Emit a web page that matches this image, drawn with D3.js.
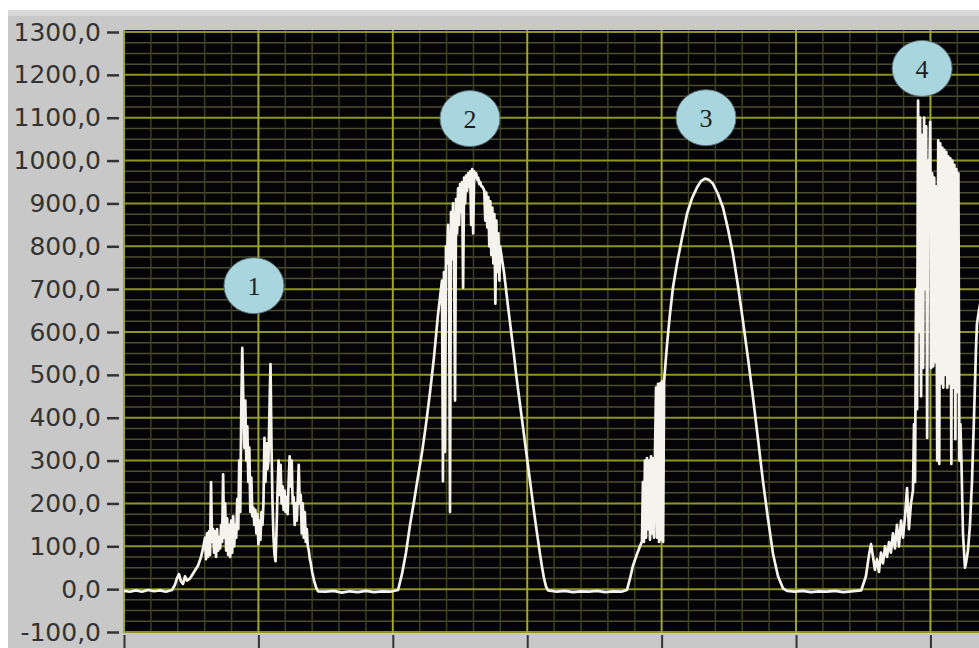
<!doctype html>
<html>
<head>
<meta charset="utf-8">
<script src="https://cdn.jsdelivr.net/npm/d3@7"></script>
<style>
  body { margin: 0; background: #fff; }
  svg { display: block; }
  .yaxis text { font-family: "DejaVu Sans", sans-serif; font-size: 25px; fill: #333; }
  .marker text { font-family: "Liberation Serif", serif; font-size: 26px; fill: #1e1e1e; }
</style>
</head>
<body>
<svg width="979" height="648"></svg>
<script>
// axis ticks
const yTicks = [-100, 0, 100, 200, 300, 400, 500, 600, 700, 800, 900, 1000, 1100, 1200, 1300];
const xTicks = [0, 100, 200, 300, 400, 500, 600];

// trace: [sample, value] pairs and runs of noisy samples
const STEP = 0.75;
const night1 = [[0,-4],[4.5,-6],[8.9,-3],[13.4,-6],[17.9,-2],[22.3,-5],[26.8,-3],[31.2,-6],[35.7,-2],
  [37.9,10],[39.4,25],[40.9,35],[42.4,18],[43.9,12],[45.4,30],[46.9,20],[49.1,25],[52.1,40],[55.1,55],
  [57.3,75],[58.8,95],[60.3,120]];
const day1Start = 61.0;
const day1 = [70,130,75,135,80,250,110,140,85,135,75,140,90,120,95,150,110,268,120,200,90,165,80,150,75,
  160,85,170,100,150,120,210,140,300,180,420,563,440,330,440,300,380,250,330,180,260,170,190,150,185,130,
  175,105,160,115,180,150,200,353,250,340,280,300,420,525,330,200,120,80,65,140,230,300,220,290,200,240,
  185,230,180,215,175,250,310,240,300,200,215,150,200,160,210,290,200,220,130,200,120,180,110,140,100,90,70,60];
const night2 = [[140,40],[141.4,20],[142.8,5],[144.3,-5],[150,-6],[156,-4],[162,-8],[168,-5],[174,-7],
  [180,-4],[186,-7],[192,-5],[198,-6],[203.9,-2]];
const day2Rise = [[206.8,35],[209.8,85],[212.8,150],[215.8,205],[218.7,262],[221.7,318],[224.7,385],
  [227.7,460],[230.6,540],[233.6,640],[235.1,680],[236.6,720]];
const day2Start = 237.3;
const day2 = [252,740,320,800,760,850,780,180,880,770,900,800,440,910,830,935,850,945,880,950,703,960,900,
  965,930,970,940,975,850,980,830,975,960,970,955,960,945,950,940,940,935,930,860,925,844,915,800,905,780,
  890,760,875,666,860,740,830,720];
const day2Fall = [[279.8,800],[281.2,770],[282.7,740],[284.2,700],[285.7,660],[287.2,622],[288.7,584],
  [290.2,545],[291.6,506],[293.1,468],[294.6,432],[296.1,396],[297.6,360],[299.1,324],[300.6,288],
  [302.1,252],[303.6,216],[305.0,182],[306.5,148],[308.0,115],[309.5,82],[311.0,52],[312.5,25],[314.0,6],
  [315.5,-3]];
const night3 = [[322,-6],[328,-4],[334,-7],[340,-5],[346,-6],[352,-4],[358,-7],[364,-5],[370,-6],[374.2,-2],
  [376.5,25],[378.7,55],[381.7,82],[383.9,100],[385.4,112]];
const day3Start = 386.1;
const day3 = [250,110,300,120,306,140,300,115,310,130,305,120,320,470,120,479,110,480,115,485,110,486];
const day3Curve = [[404.0,570],[406.2,642],[408.5,705],[411.4,759],[415.2,820],[418.9,876],[422.6,912],
  [426.3,937],[429.3,952],[432.3,958],[435.2,955],[438.2,946],[441.9,922],[445.7,890],[449.4,840],
  [453.1,782],[456.8,708],[460.5,626],[464.3,538],[468.0,447],[471.7,350],[475.4,252],[479.1,165],
  [482.9,82],[486.6,30],[490.3,2],[493.3,-4]];
const night4 = [[499,-6],[505,-4],[511,-7],[517,-5],[523,-6],[529,-4],[535,-7],[541,-5],[548.5,-3],
  [552.0,30],[554.3,80],[555.8,105],[557.3,75],[558.7,45],[560.2,70],[561.7,40],[563.2,85],[564.7,60],
  [566.2,100],[567.7,75],[569.2,110],[570.6,85],[572.1,130],[573.6,95],[575.1,150],[576.6,100],[578.1,160],
  [579.6,120],[581.1,170],[582.6,236],[584.0,140],[585.5,200],[587.0,230]];
const day4Start = 587.8;
const day4 = [385,250,700,420,1140,600,1100,450,1060,516,1100,700,1080,353,1000,940,1090,516,970,520,960,
  530,940,300,1047,292,1040,480,1030,470,1025,500,1020,470,1010,480,1005,292,1000,470,990,350,980,460,970,
  300,385,300];
const day4Tail = [[624.2,130],[625.7,50],[626.4,60],[627.9,90],[629.4,150],[630.9,250],[632.4,400],
  [633.9,560],[634.6,619],[636.1,650],[638.4,690]];

// numbered markers
const markerLabels = ["1", "2", "3", "4"];
const markerX = [96.7, 257.4, 433, 593.8];
const markerY = [708, 1098, 1100, 1215];

const run = (start, vals) => vals.map((v, i) => [start + i * STEP, v]);
const trace = [].concat(night1, run(day1Start, day1), night2, day2Rise, run(day2Start, day2), day2Fall,
  night3, run(day3Start, day3), day3Curve, night4, run(day4Start, day4), day4Tail);

const svg = d3.select("svg");
const x = d3.scaleLinear().domain([0, 640]).range([124, 984.2]);
const y = d3.scaleLinear().domain([-100, 1300]).range([632, 32]);

// panel
svg.append("rect").attr("x", 8).attr("y", 10).attr("width", 971).attr("height", 638).style("fill", "#c8c8c8");
svg.append("rect").attr("x", 8).attr("y", 10).attr("width", 971).attr("height", 6).style("fill", "#d8d8d8");
svg.append("rect").attr("x", 123).attr("y", 30).attr("width", 862).attr("height", 603).style("fill", "#040406");

svg.append("clipPath").attr("id", "plot").append("rect")
  .attr("x", 123).attr("y", 30).attr("width", 862).attr("height", 603);

const grid = svg.append("g").attr("clip-path", "url(#plot)");
const minorY = d3.range(-100, 1301, 25).filter(v => v % 100 !== 0);
const minorX = d3.range(0, 641, 20).filter(v => v % 100 !== 0);

grid.selectAll(".hmin").data(minorY).enter().append("line")
  .attr("x1", 123).attr("x2", 985).attr("y1", d => y(d)).attr("y2", d => y(d))
  .style("stroke", "#4c4c30").style("stroke-width", 1.5);
grid.selectAll(".vmin").data(minorX).enter().append("line")
  .attr("y1", 30).attr("y2", 633).attr("x1", d => x(d)).attr("x2", d => x(d))
  .style("stroke", "#3f3f22").style("stroke-width", 1.5);
grid.selectAll(".hmaj").data(yTicks).enter().append("line")
  .attr("x1", 123).attr("x2", 985).attr("y1", d => y(d)).attr("y2", d => y(d))
  .style("stroke", "#8c9424").style("stroke-width", 2);
grid.selectAll(".vmaj").data(xTicks).enter().append("line")
  .attr("y1", 30).attr("y2", 633).attr("x1", d => x(d)).attr("x2", d => x(d))
  .style("stroke", "#a0a628").style("stroke-width", 2);

// trace
grid.append("path")
  .datum(trace)
  .attr("d", d3.line().x(d => x(d[0])).y(d => y(d[1])))
  .style("fill", "none")
  .style("stroke", "#f4f4ec")
  .style("stroke-width", 2.7)
  .style("stroke-linejoin", "round");

// axes
const loc = d3.formatLocale({decimal: ",", thousands: "", grouping: [3], currency: ["", ""], minus: "-"});
const yAxis = svg.append("g").attr("class", "yaxis").attr("transform", "translate(119,0)")
  .call(d3.axisLeft(y).tickValues(yTicks).tickSize(12).tickPadding(6).tickFormat(loc.format(".1f")));
yAxis.select(".domain").remove();
yAxis.selectAll("line").style("stroke", "#333").style("stroke-width", 2.5);

const xAxis = svg.append("g").attr("transform", "translate(0,635)")
  .call(d3.axisBottom(x).tickValues(xTicks).tickSize(13).tickFormat(""));
xAxis.select(".domain").remove();
xAxis.selectAll("line").style("stroke", "#333").style("stroke-width", 2);

// markers
const mk = svg.selectAll(".marker").data(markerLabels).enter().append("g")
  .attr("class", "marker")
  .attr("transform", (d, i) => "translate(" + x(markerX[i]) + "," + y(markerY[i]) + ")");
mk.append("ellipse").attr("rx", 30).attr("ry", 28)
  .style("fill", "#a9d5de").style("stroke", "#5a7078").style("stroke-width", 1);
mk.append("text").attr("text-anchor", "middle").attr("dy", "0.35em").text(d => d);
</script>
</body>
</html>
